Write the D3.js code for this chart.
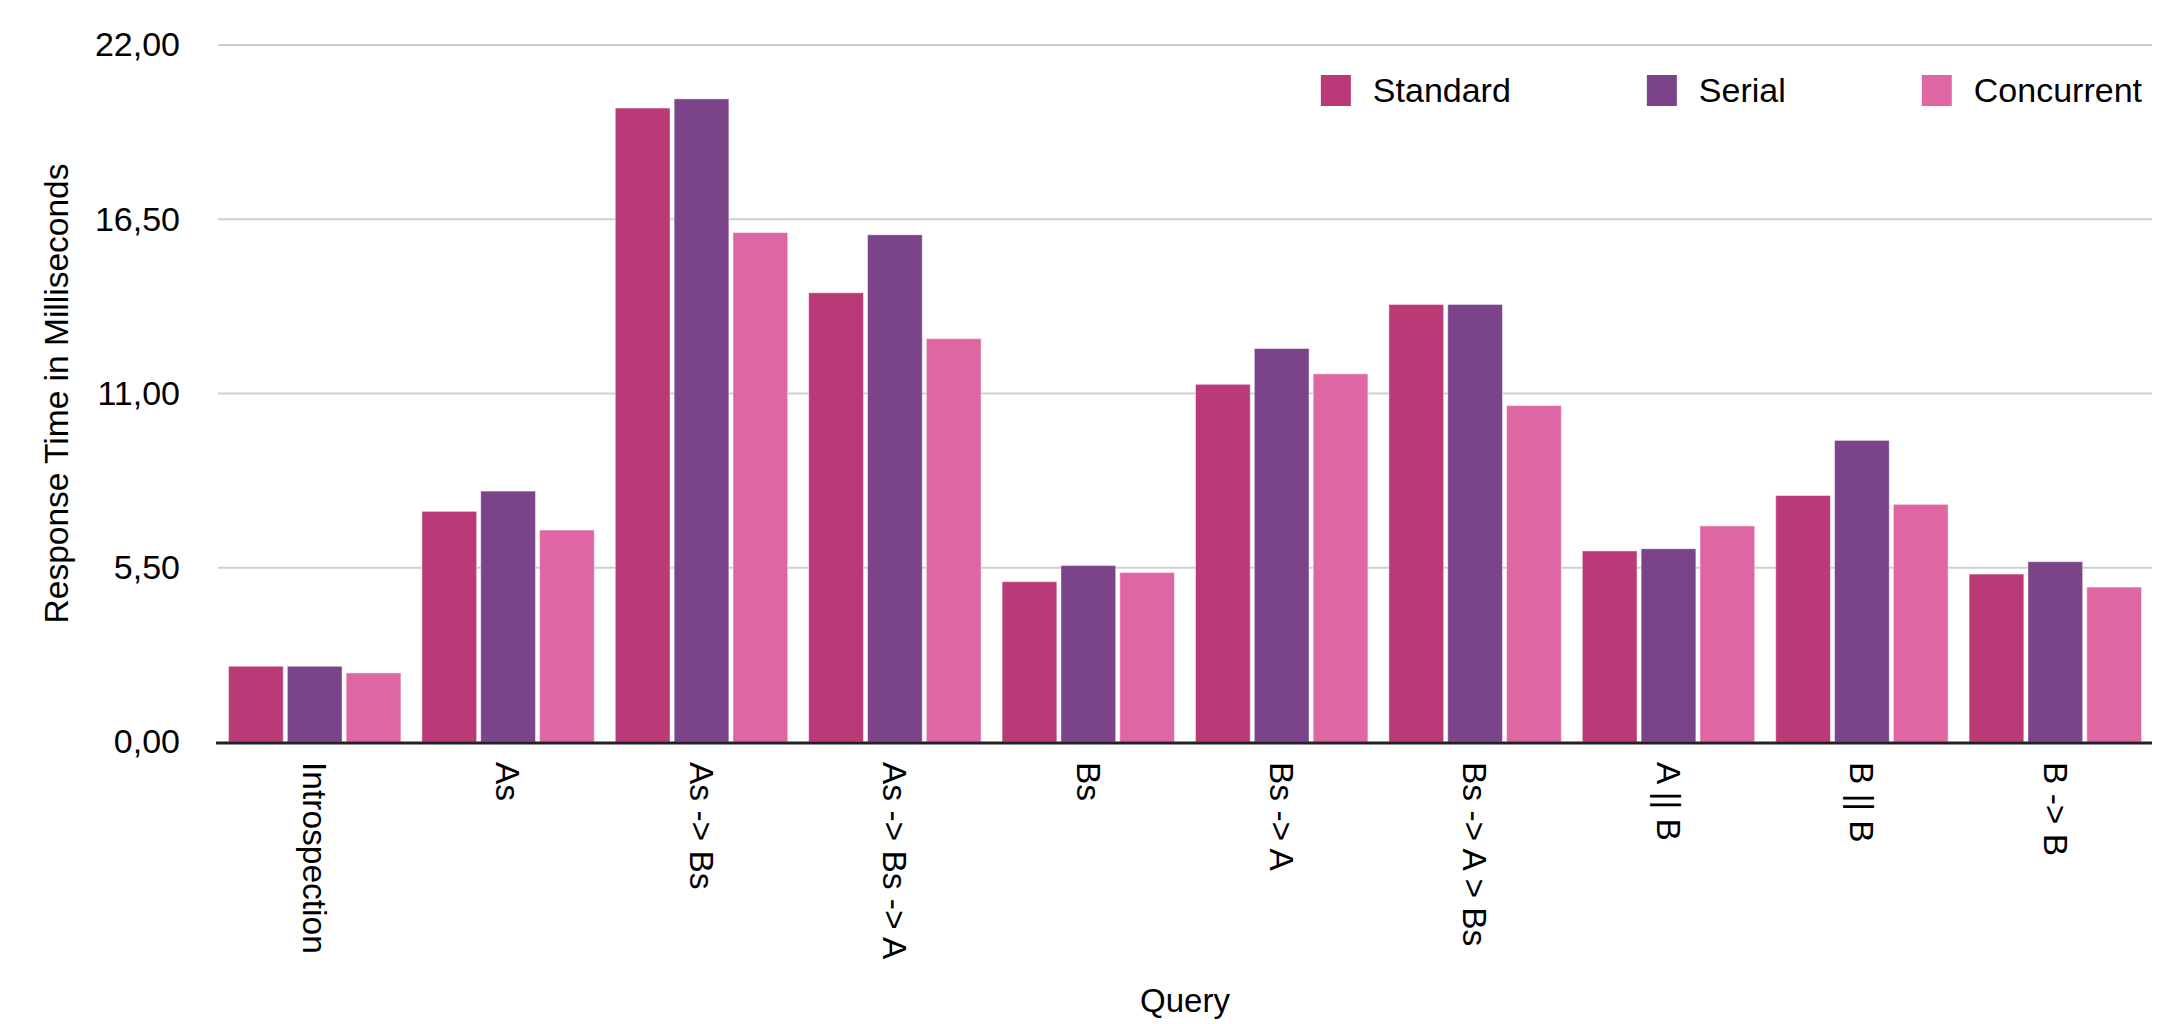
<!DOCTYPE html>
<html>
<head>
<meta charset="utf-8">
<script src="https://cdn.jsdelivr.net/npm/d3@7/dist/d3.min.js"></script>
<style>
  html, body { margin: 0; padding: 0; background: #fff; }
  svg { display: block; }
  text { font-family: "Liberation Sans", Arial, Helvetica, sans-serif; fill: #000; }
</style>
</head>
<body>
<svg id="chart" width="2165" height="1024"></svg>
<script>
// Query categories along the x axis
const categories = ["Introspection", "As", "As -> Bs", "As -> Bs -> A", "Bs", "Bs -> A",
                    "Bs -> A > Bs", "A || B", "B || B", "B -> B"];

// Response times (ms) per query for each execution strategy
const seriesNames = ["Standard", "Serial", "Concurrent"];
const standard   = [2.39, 7.28, 20.01, 14.18, 5.06, 11.29, 13.81, 6.03, 7.78, 5.30];
const serial     = [2.39, 7.92, 20.30, 16.01, 5.57, 12.42, 13.81, 6.10, 9.52, 5.69];
const concurrent = [2.18, 6.69, 16.08, 12.73, 5.35, 11.62, 10.62, 6.82, 7.50, 4.89];

// Y-axis tick values and their labels (comma decimal)
const yTicks = [0, 5.5, 11, 16.5, 22];
const yTickLabels = ["0,00", "5,50", "11,00", "16,50", "22,00"];

const colors = ["#b93a76", "#7b438a", "#de67a3"];

const svg = d3.select("#chart");
const plotLeft = 218, plotRight = 2152, plotTop = 45, plotBottom = 742;

const seriesValues = [standard, serial, concurrent];
const rows = categories.map((c, i) => ({
  cat: c,
  vals: seriesNames.map((s, j) => ({ series: s, value: seriesValues[j][i], color: colors[j] }))
}));

const x0 = d3.scaleBand().domain(categories).range([plotLeft, plotRight]).padding(0);
const x1 = d3.scaleBand().domain(seriesNames)
  .range([10.5, x0.bandwidth() - 10.5]).paddingInner(0.07).paddingOuter(0);
const y = d3.scaleLinear().domain([0, 22]).range([plotBottom, plotTop]);

// Horizontal gridlines
svg.append("g").selectAll("line").data(yTicks.filter(t => t > 0)).join("line")
  .attr("x1", plotLeft).attr("x2", plotRight)
  .attr("y1", d => y(d)).attr("y2", d => y(d))
  .attr("stroke", "#cfcfcf").attr("stroke-width", 2);

// Y axis labels
const yAxis = d3.axisLeft(y).tickValues(yTicks)
  .tickFormat((d, i) => yTickLabels[i]).tickSize(0).tickPadding(38);
const gy = svg.append("g").attr("transform", `translate(${plotLeft},0)`).call(yAxis);
gy.select(".domain").remove();
gy.selectAll("text").attr("font-size", 34)
  .attr("font-family", "'Liberation Sans', Arial, sans-serif").attr("fill", "#000");

// Bars
const groups = svg.append("g").selectAll("g").data(rows).join("g")
  .attr("transform", d => `translate(${x0(d.cat)},0)`);
groups.selectAll("rect").data(d => d.vals).join("rect")
  .attr("x", d => x1(d.series))
  .attr("width", x1.bandwidth())
  .attr("y", d => y(d.value))
  .attr("height", d => y(0) - y(d.value))
  .attr("fill", d => d.color)
  .attr("stroke", "#ffffff").attr("stroke-opacity", 0.45).attr("stroke-width", 1);

// Baseline axis
svg.append("line")
  .attr("x1", plotLeft - 2).attr("x2", plotRight)
  .attr("y1", y(0) + 1).attr("y2", y(0) + 1)
  .attr("stroke", "#222").attr("stroke-width", 3);

// X category labels, rotated to read top-down
const xAxis = d3.axisBottom(x0).tickSize(0).tickPadding(0);
const gx = svg.append("g").attr("transform", `translate(0,${plotBottom})`).call(xAxis);
gx.select(".domain").remove();
gx.selectAll("text")
  .attr("font-size", 33.5)
  .attr("font-family", "'Liberation Sans', Arial, sans-serif")
  .attr("fill", "#000")
  .attr("text-anchor", "start")
  .attr("transform", "translate(0,20) rotate(90)")
  .attr("x", 0).attr("y", 0).attr("dy", "0.35em");

// Axis titles
svg.append("text")
  .attr("x", (plotLeft + plotRight) / 2).attr("y", 1012)
  .attr("text-anchor", "middle").attr("font-size", 33)
  .text("Query");
svg.append("text")
  .attr("transform", `translate(68,${(plotTop + plotBottom) / 2}) rotate(-90)`)
  .attr("text-anchor", "middle").attr("font-size", 33.5)
  .text("Response Time in Milliseconds");

// Legend, laid out left-to-right and right-aligned to the plot
const legendGap = 136;
const legend = svg.append("g");
const items = legend.selectAll("g").data(seriesNames).join("g");
items.append("rect")
  .attr("x", 0).attr("y", 75).attr("width", 30).attr("height", 31)
  .attr("fill", (d, i) => colors[i]);
items.append("text")
  .attr("x", 52).attr("y", 102).attr("font-size", 34)
  .text(d => d);
let cursor = 0;
const offsets = [];
items.each(function () {
  offsets.push(cursor);
  const w = 52 + this.querySelector("text").getComputedTextLength();
  cursor += w + legendGap;
});
const legendEnd = cursor - legendGap;
const shift = 2142 - legendEnd;
items.attr("transform", (d, i) => `translate(${shift + offsets[i]},0)`);
</script>
</body>
</html>
